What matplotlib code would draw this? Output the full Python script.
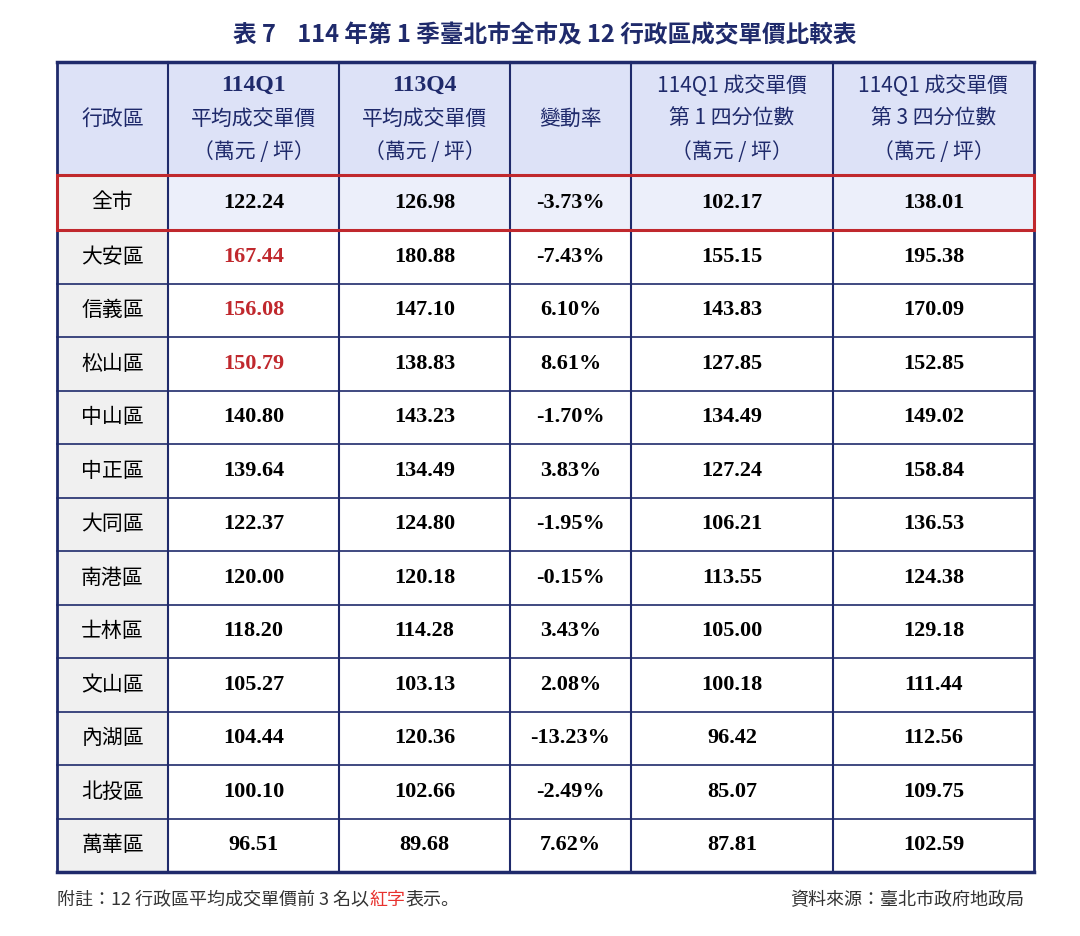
import matplotlib.pyplot as plt
from matplotlib.patches import Rectangle

districts = ['大安區', '信義區', '松山區', '中山區', '中正區', '大同區',
             '南港區', '士林區', '文山區', '內湖區', '北投區', '萬華區']
avg_114q1 = ['167.44', '156.08', '150.79', '140.80', '139.64', '122.37',
             '120.00', '118.20', '105.27', '104.44', '100.10', '96.51']
avg_113q4 = ['180.88', '147.10', '138.83', '143.23', '134.49', '124.80',
             '120.18', '114.28', '103.13', '120.36', '102.66', '89.68']
change = ['-7.43%', '6.10%', '8.61%', '-1.70%', '3.83%', '-1.95%',
          '-0.15%', '3.43%', '2.08%', '-13.23%', '-2.49%', '7.62%']
q1 = ['155.15', '143.83', '127.85', '134.49', '127.24', '106.21',
      '113.55', '105.00', '100.18', '96.42', '85.07', '87.81']
q3 = ['195.38', '170.09', '152.85', '149.02', '158.84', '136.53',
      '124.38', '129.18', '111.44', '112.56', '109.75', '102.59']
city_row = ['全市', '122.24', '126.98', '-3.73%', '102.17', '138.01']
top3 = 3

NAVY = '#1f2a6b'
RED = '#c0282d'
CJK = ['Noto Sans CJK TC', 'Noto Sans CJK JP', 'Noto Sans CJK SC', 'DejaVu Sans']
SERIF = ['Liberation Serif', 'Noto Sans CJK JP']

fig = plt.figure(figsize=(10.8, 9.36), dpi=100)
ax = fig.add_axes([0, 0, 1, 1])
ax.set_xlim(0, 1080)
ax.set_ylim(936, 0)
ax.axis('off')

xs = [57, 168, 339, 510, 631, 833, 1034]
y_head, y_city, y_body, y_end = 62, 175, 230, 872
rh = (y_end - y_body) / len(districts)

# title
ax.text(545, 35, '表 7    114 年第 1 季臺北市全市及 12 行政區成交單價比較表',
        ha='center', va='center', fontsize=17, fontweight='bold', color=NAVY, family=CJK)

# header
ax.add_patch(Rectangle((xs[0], y_head), xs[-1] - xs[0], y_city - y_head, fc='#dde2f7', ec='none'))
ymid = (y_head + y_city) / 2
ax.text((xs[0] + xs[1]) / 2, ymid, '行政區', ha='center', va='center', fontsize=15, color=NAVY, family=CJK)
headers = [('114Q1', '平均成交單價', '（萬元 / 坪）'),
           ('113Q4', '平均成交單價', '（萬元 / 坪）'),
           None,
           ('114Q1 成交單價', '第 1 四分位數', '（萬元 / 坪）'),
           ('114Q1 成交單價', '第 3 四分位數', '（萬元 / 坪）')]
for i, h in enumerate(headers):
    cx = (xs[i + 1] + xs[i + 2]) / 2
    if h is None:
        ax.text(cx, ymid, '變動率', ha='center', va='center', fontsize=15, color=NAVY, family=CJK)
        continue
    for j, line in enumerate(h):
        serif = j == 0 and i < 2
        ax.text(cx, ymid - 33 + 33 * j, line, ha='center', va='center', fontsize=17 if serif else 15,
                color=NAVY, family=SERIF if serif else CJK, fontweight='bold' if serif else 'normal')

# city row
ax.add_patch(Rectangle((xs[0], y_city), xs[1] - xs[0], y_body - y_city, fc='#f0f0f0', ec='none'))
ax.add_patch(Rectangle((xs[1], y_city), xs[-1] - xs[1], y_body - y_city, fc='#eceffa', ec='none'))
cy = (y_city + y_body) / 2
for i, val in enumerate(city_row):
    cx = (xs[i] + xs[i + 1]) / 2
    ax.text(cx, cy, val, ha='center', va='center', fontsize=15 if i == 0 else 16,
            fontweight='normal' if i == 0 else 'bold', family=CJK if i == 0 else SERIF, color='black')

# body
ax.add_patch(Rectangle((xs[0], y_body), xs[1] - xs[0], y_end - y_body, fc='#f0f0f0', ec='none'))
cols = [districts, avg_114q1, avg_113q4, change, q1, q3]
for r in range(len(districts)):
    ry = y_body + rh * (r + 0.5)
    for c, col in enumerate(cols):
        cx = (xs[c] + xs[c + 1]) / 2
        color = RED if (c == 1 and r < top3) else 'black'
        ax.text(cx, ry, col[r], ha='center', va='center', fontsize=15 if c == 0 else 16,
                fontweight='normal' if c == 0 else 'bold', family=CJK if c == 0 else SERIF, color=color)

# grid lines
for x in xs:
    ax.plot([x, x], [y_head, y_end], color=NAVY, lw=2 if x in (xs[0], xs[-1]) else 1.5)
for r in range(1, len(districts)):
    y = y_body + rh * r
    ax.plot([xs[0], xs[-1]], [y, y], color=NAVY, lw=1.2)
ax.plot([xs[0], xs[-1]], [y_head, y_head], color=NAVY, lw=2.5)
ax.plot([xs[0], xs[-1]], [y_end, y_end], color=NAVY, lw=2.5)
ax.add_patch(Rectangle((xs[0], y_city), xs[-1] - xs[0], y_body - y_city, fc='none', ec=RED, lw=2.2, zorder=5))

# footnotes
fx, fy = 57, 900
t1 = ax.text(fx, fy, '附註：12 行政區平均成交單價前 3 名以', ha='left', va='center',
             fontsize=13, color='#333333', family=CJK)
fig.canvas.draw()
bb = t1.get_window_extent().transformed(ax.transData.inverted())
t2 = ax.text(bb.x1, fy, '紅字', ha='left', va='center', fontsize=13, color='#e8322f', family=CJK)
fig.canvas.draw()
bb2 = t2.get_window_extent().transformed(ax.transData.inverted())
ax.text(bb2.x1, fy, '表示。', ha='left', va='center', fontsize=13, color='#333333', family=CJK)
ax.text(1024, fy, '資料來源：臺北市政府地政局', ha='right', va='center',
        fontsize=13, color='#333333', family=CJK)

fig.savefig('out.png', dpi=100)
